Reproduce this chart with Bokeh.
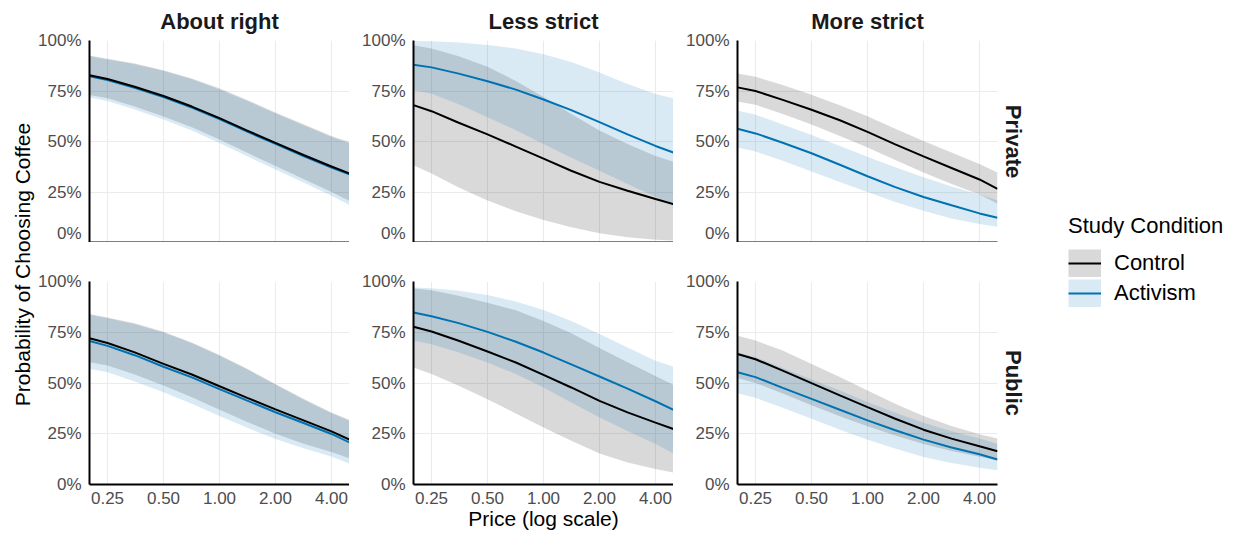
from math import pi
from bokeh.plotting import figure
from bokeh.layouts import row, column
from bokeh.models import (Range1d, FixedTicker, NumeralTickFormatter, Title, Label,
                          Legend, LegendItem, ColumnDataSource)
from bokeh.embed import file_html
from bokeh.resources import INLINE

# ---------------- data ----------------
PRICE = [0.2, 0.25, 0.35, 0.5, 0.71, 1.0, 1.41, 2.0, 2.83, 4.0, 5.0]
X_TICKS = [0.25, 0.5, 1.0, 2.0, 4.0]
Y_TICKS = [0.0, 0.25, 0.5, 0.75, 1.0]
COLUMNS = ["About right", "Less strict", "More strict"]
ROWS = ["Private", "Public"]
CONDITIONS = ["Control", "Activism"]

# About right / Private
AR_PRIV_CTRL_MEAN = [0.828, 0.809, 0.771, 0.725, 0.673, 0.616, 0.554, 0.493, 0.433, 0.376, 0.342]
AR_PRIV_CTRL_LO = [0.730, 0.714, 0.673, 0.624, 0.570, 0.510, 0.444, 0.379, 0.314, 0.250, 0.205]
AR_PRIV_CTRL_HI = [0.926, 0.910, 0.886, 0.853, 0.812, 0.763, 0.706, 0.644, 0.585, 0.527, 0.497]
AR_PRIV_ACT_MEAN = [0.823, 0.804, 0.766, 0.720, 0.668, 0.611, 0.549, 0.488, 0.428, 0.371, 0.337]
AR_PRIV_ACT_LO = [0.718, 0.701, 0.659, 0.609, 0.554, 0.493, 0.427, 0.362, 0.297, 0.232, 0.186]
AR_PRIV_ACT_HI = [0.922, 0.906, 0.882, 0.849, 0.808, 0.758, 0.701, 0.639, 0.580, 0.522, 0.492]

# Less strict / Private
LS_PRIV_CTRL_MEAN = [0.680, 0.650, 0.593, 0.535, 0.475, 0.415, 0.355, 0.300, 0.256, 0.215, 0.190]
LS_PRIV_CTRL_LO = [0.383, 0.342, 0.272, 0.208, 0.155, 0.112, 0.075, 0.046, 0.026, 0.014, 0.010]
LS_PRIV_CTRL_HI = [0.977, 0.960, 0.922, 0.870, 0.800, 0.720, 0.636, 0.555, 0.488, 0.428, 0.400]
LS_PRIV_ACT_MEAN = [0.880, 0.867, 0.836, 0.798, 0.757, 0.708, 0.655, 0.596, 0.535, 0.478, 0.445]
LS_PRIV_ACT_LO = [0.755, 0.737, 0.684, 0.620, 0.556, 0.488, 0.420, 0.355, 0.290, 0.226, 0.178]
LS_PRIV_ACT_HI = [0.998, 0.996, 0.990, 0.978, 0.960, 0.932, 0.893, 0.842, 0.785, 0.735, 0.714]

# More strict / Private
MS_PRIV_CTRL_MEAN = [0.768, 0.750, 0.706, 0.657, 0.605, 0.548, 0.486, 0.426, 0.369, 0.312, 0.266]
MS_PRIV_CTRL_LO = [0.698, 0.682, 0.636, 0.584, 0.527, 0.470, 0.408, 0.347, 0.290, 0.238, 0.192]
MS_PRIV_CTRL_HI = [0.837, 0.821, 0.780, 0.731, 0.679, 0.625, 0.563, 0.502, 0.445, 0.388, 0.347]
MS_PRIV_ACT_MEAN = [0.563, 0.540, 0.494, 0.442, 0.385, 0.328, 0.274, 0.225, 0.184, 0.144, 0.123]
MS_PRIV_ACT_LO = [0.470, 0.450, 0.405, 0.352, 0.299, 0.250, 0.201, 0.157, 0.119, 0.091, 0.078]
MS_PRIV_ACT_HI = [0.653, 0.633, 0.584, 0.532, 0.478, 0.424, 0.372, 0.323, 0.277, 0.238, 0.209]

# About right / Public
AR_PUB_CTRL_MEAN = [0.720, 0.697, 0.651, 0.594, 0.542, 0.484, 0.427, 0.370, 0.316, 0.262, 0.221]
AR_PUB_CTRL_LO = [0.602, 0.586, 0.542, 0.488, 0.430, 0.368, 0.308, 0.250, 0.201, 0.160, 0.128]
AR_PUB_CTRL_HI = [0.840, 0.823, 0.794, 0.753, 0.700, 0.638, 0.570, 0.495, 0.422, 0.355, 0.318]
AR_PUB_ACT_MEAN = [0.707, 0.683, 0.637, 0.580, 0.528, 0.470, 0.413, 0.356, 0.303, 0.249, 0.207]
AR_PUB_ACT_LO = [0.570, 0.553, 0.508, 0.455, 0.398, 0.338, 0.280, 0.224, 0.178, 0.138, 0.103]
AR_PUB_ACT_HI = [0.836, 0.819, 0.790, 0.749, 0.696, 0.634, 0.566, 0.491, 0.418, 0.351, 0.314]

# Less strict / Public
LS_PUB_CTRL_MEAN = [0.777, 0.754, 0.708, 0.655, 0.601, 0.540, 0.478, 0.412, 0.355, 0.305, 0.273]
LS_PUB_CTRL_LO = [0.576, 0.544, 0.486, 0.420, 0.350, 0.281, 0.215, 0.153, 0.108, 0.076, 0.059]
LS_PUB_CTRL_HI = [0.965, 0.957, 0.930, 0.895, 0.858, 0.806, 0.745, 0.673, 0.602, 0.535, 0.490]
LS_PUB_ACT_MEAN = [0.847, 0.829, 0.795, 0.752, 0.703, 0.650, 0.592, 0.532, 0.472, 0.410, 0.368]
LS_PUB_ACT_LO = [0.708, 0.691, 0.650, 0.601, 0.544, 0.478, 0.404, 0.330, 0.264, 0.199, 0.153]
LS_PUB_ACT_HI = [0.970, 0.967, 0.954, 0.934, 0.901, 0.859, 0.806, 0.741, 0.675, 0.609, 0.580]

# More strict / Public
MS_PUB_CTRL_MEAN = [0.643, 0.617, 0.561, 0.499, 0.439, 0.381, 0.324, 0.270, 0.226, 0.188, 0.164]
MS_PUB_CTRL_LO = [0.525, 0.500, 0.448, 0.390, 0.336, 0.287, 0.241, 0.200, 0.165, 0.137, 0.118]
MS_PUB_CTRL_HI = [0.733, 0.709, 0.660, 0.594, 0.529, 0.463, 0.398, 0.337, 0.288, 0.247, 0.226]
MS_PUB_ACT_MEAN = [0.553, 0.529, 0.476, 0.422, 0.368, 0.316, 0.267, 0.221, 0.182, 0.149, 0.123]
MS_PUB_ACT_LO = [0.450, 0.427, 0.378, 0.324, 0.270, 0.221, 0.177, 0.136, 0.106, 0.083, 0.070]
MS_PUB_ACT_HI = [0.651, 0.627, 0.574, 0.517, 0.463, 0.406, 0.354, 0.304, 0.262, 0.226, 0.201]

DATA = {
    ("About right", "Private"): {
        "Control": (AR_PRIV_CTRL_MEAN, AR_PRIV_CTRL_LO, AR_PRIV_CTRL_HI),
        "Activism": (AR_PRIV_ACT_MEAN, AR_PRIV_ACT_LO, AR_PRIV_ACT_HI)},
    ("Less strict", "Private"): {
        "Control": (LS_PRIV_CTRL_MEAN, LS_PRIV_CTRL_LO, LS_PRIV_CTRL_HI),
        "Activism": (LS_PRIV_ACT_MEAN, LS_PRIV_ACT_LO, LS_PRIV_ACT_HI)},
    ("More strict", "Private"): {
        "Control": (MS_PRIV_CTRL_MEAN, MS_PRIV_CTRL_LO, MS_PRIV_CTRL_HI),
        "Activism": (MS_PRIV_ACT_MEAN, MS_PRIV_ACT_LO, MS_PRIV_ACT_HI)},
    ("About right", "Public"): {
        "Control": (AR_PUB_CTRL_MEAN, AR_PUB_CTRL_LO, AR_PUB_CTRL_HI),
        "Activism": (AR_PUB_ACT_MEAN, AR_PUB_ACT_LO, AR_PUB_ACT_HI)},
    ("Less strict", "Public"): {
        "Control": (LS_PUB_CTRL_MEAN, LS_PUB_CTRL_LO, LS_PUB_CTRL_HI),
        "Activism": (LS_PUB_ACT_MEAN, LS_PUB_ACT_LO, LS_PUB_ACT_HI)},
    ("More strict", "Public"): {
        "Control": (MS_PUB_CTRL_MEAN, MS_PUB_CTRL_LO, MS_PUB_CTRL_HI),
        "Activism": (MS_PUB_ACT_MEAN, MS_PUB_ACT_LO, MS_PUB_ACT_HI)},
}

# ---------------- style ----------------
FONT = "Liberation Sans"
LINE_COLOR = {"Control": "#000000", "Activism": "#0072B2"}
RIBBON_ALPHA = 0.15
FRAME_W, FRAME_H = 260, 203
TOP_GAP = 39
BOTTOM_H = 53


def make_panel(ci, ri):
    top = ri == 0
    lb = 54 if ci == 0 else 64
    rb = 35 if ci == 2 else 0
    bb = 0 if top else BOTTOM_H
    p = figure(width=lb + FRAME_W + rb, height=TOP_GAP + FRAME_H + bb,
               x_axis_type="log", x_range=Range1d(0.2, 5.0), y_range=Range1d(0.0, 1.0),
               toolbar_location=None, output_backend="svg",
               title=COLUMNS[ci] if top else None,
               min_border_left=lb, min_border_right=rb,
               min_border_top=TOP_GAP, min_border_bottom=bb,
               outline_line_color=None, background_fill_color="white",
               border_fill_color="white")
    if top:
        p.title.align = "center"
        p.title.text_font = FONT
        p.title.text_font_size = "22px"
        p.title.text_font_style = "bold"
        p.title.text_color = "#1a1a1a"
        p.title.standoff = 13
    if ci == 2:
        p.add_layout(Title(text=ROWS[ri], align="center", text_font=FONT,
                           text_font_size="22px", text_font_style="bold",
                           text_color="#1a1a1a", standoff=6), "right")

    panel = DATA[(COLUMNS[ci], ROWS[ri])]
    sources = {}
    for cond in CONDITIONS:
        mean, lo, hi = panel[cond]
        sources[cond] = ColumnDataSource(dict(price=PRICE, mean=mean, lo=lo, hi=hi))
        p.varea(x="price", y1="lo", y2="hi", source=sources[cond],
                fill_color=LINE_COLOR[cond], fill_alpha=RIBBON_ALPHA)
    for cond in ["Activism", "Control"]:
        p.line(x="price", y="mean", source=sources[cond],
               line_color=LINE_COLOR[cond], line_width=2)

    xt = FixedTicker(ticks=X_TICKS, minor_ticks=[])
    yt = FixedTicker(ticks=Y_TICKS, minor_ticks=[])
    p.xaxis.ticker = xt if not top else FixedTicker(ticks=[], minor_ticks=[])
    p.yaxis.ticker = yt
    p.xgrid.ticker = xt
    p.ygrid.ticker = yt
    p.xaxis.formatter = NumeralTickFormatter(format="0.00")
    p.yaxis.formatter = NumeralTickFormatter(format="0%")
    p.grid.grid_line_color = "#ebebeb"
    p.grid.grid_line_width = 1.1
    for ax in p.axis:
        ax.axis_line_color = "black"
        ax.axis_line_width = 2
        ax.major_tick_line_color = None
        ax.minor_tick_line_color = None
        ax.major_tick_out = 0
        ax.major_tick_in = 0
        ax.minor_tick_out = 0
        ax.minor_tick_in = 0
        ax.major_label_text_font = FONT
        ax.major_label_text_font_size = "17px"
        ax.major_label_text_color = "#4d4d4d"
    p.yaxis.major_label_standoff = 8
    if top:
        p.xaxis.major_label_standoff = 0
    else:
        p.xaxis.major_label_standoff = 7
        if ci == 1:
            p.xaxis.axis_label = "Price (log scale)"
            p.xaxis.axis_label_text_font = FONT
            p.xaxis.axis_label_text_font_size = "21px"
            p.xaxis.axis_label_text_font_style = "normal"
            p.xaxis.axis_label_text_color = "#000000"
            p.xaxis.axis_label_standoff = 0
    return p


panels = [[make_panel(ci, ri) for ci in range(3)] for ri in range(2)]

# y-axis title column
TOTAL_H = 537
ytitle = figure(width=35, height=TOTAL_H, x_range=Range1d(0, 35), y_range=Range1d(0, TOTAL_H),
                toolbar_location=None, output_backend="svg", min_border=0,
                x_axis_location=None, y_axis_location=None, outline_line_color=None)
ytitle.grid.visible = False
ytitle.add_layout(Label(x=22, y=TOTAL_H - 264, text="Probability of Choosing Coffee",
                        angle=pi / 2, text_align="center", text_baseline="middle",
                        text_font=FONT, text_font_size="21px", text_color="#000000"))

# legend column: proxy renderers carry the first panel's series but sit outside
# the visible range, so only their legend keys show
used_w = 35 + sum(p.width for p in panels[0])
leg = figure(width=1240 - used_w, height=TOTAL_H, x_range=Range1d(100, 101), y_range=Range1d(100, 101),
             toolbar_location=None, output_backend="svg", min_border=0,
             x_axis_location=None, y_axis_location=None, outline_line_color=None)
leg.grid.visible = False
items = []
for cond in CONDITIONS:
    mean = DATA[("About right", "Private")][cond][0]
    proxy = ColumnDataSource(dict(price=PRICE, mean=mean))
    band = leg.line(x="price", y="mean", source=proxy, line_color=LINE_COLOR[cond],
                    line_alpha=RIBBON_ALPHA, line_width=28, line_cap="butt")
    ln = leg.line(x="price", y="mean", source=proxy, line_color=LINE_COLOR[cond], line_width=2)
    items.append(LegendItem(label=cond, renderers=[band, ln]))
legend = Legend(items=items, title="Study Condition", location=(36, TOTAL_H - 307),
                title_text_font=FONT, title_text_font_size="22px",
                title_text_font_style="normal", title_text_color="#000000",
                title_standoff=10,
                label_text_font=FONT, label_text_font_size="22px", label_text_color="#000000",
                glyph_width=33, glyph_height=28, spacing=2, padding=0, margin=0,
                label_standoff=13, border_line_color=None, background_fill_alpha=0)
leg.add_layout(legend)

layout = row(ytitle, column(row(*panels[0]), row(*panels[1])), leg)

with open("out.html", "w") as f:
    f.write(file_html(layout, INLINE, title="Coffee choice"))
